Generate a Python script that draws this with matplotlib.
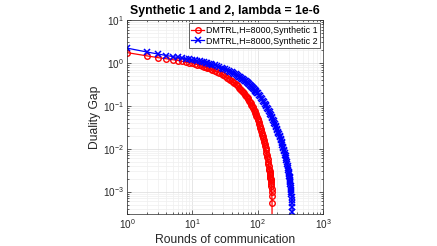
import numpy as np
import matplotlib
matplotlib.use('Agg')
import matplotlib.pyplot as plt
from matplotlib.ticker import LogLocator

plt.rcParams['font.family'] = ['Liberation Sans', 'DejaVu Sans']
plt.rcParams['mathtext.default'] = 'regular'

# Synthetic 1 (rounds, log10 of duality gap)
rounds1 = [1, 2, 3, 4, 5, 6, 7, 8, 9, 10, 11, 12, 13, 14, 15, 16, 17, 18, 19, 20,
           22, 24, 26, 28, 30, 32, 34, 36, 38, 40, 42, 44, 46, 48, 50,
           52, 54, 56, 58, 60, 62, 64, 66, 68, 70, 72, 74, 76, 78, 80,
           82, 84, 86, 88, 90, 92, 94, 96, 98, 100, 102, 104, 106, 108, 110,
           112, 114, 116, 118, 120, 122, 124, 126, 128, 130, 132, 134, 136, 138, 140,
           142, 144, 146, 148, 150,
           151, 152, 153, 154, 155, 156, 157, 158, 159, 160, 161, 162, 163,
           164, 165, 166, 167]
gap1_log10 = [0.240, 0.165, 0.122, 0.097, 0.075, 0.055, 0.037, 0.020, 0.004, -0.012,
              -0.027, -0.042, -0.057, -0.072, -0.087, -0.101, -0.115, -0.129, -0.143, -0.157,
              -0.184, -0.211, -0.237, -0.263, -0.289, -0.315, -0.341, -0.367, -0.393, -0.419,
              -0.445, -0.471, -0.497, -0.523, -0.549,
              -0.575, -0.602, -0.628, -0.655, -0.682, -0.710, -0.738, -0.766, -0.794, -0.823,
              -0.852, -0.881, -0.910, -0.940, -0.970,
              -1.000, -1.031, -1.062, -1.094, -1.126, -1.159, -1.192, -1.228, -1.265, -1.302,
              -1.340, -1.385, -1.430, -1.470, -1.510,
              -1.550, -1.590, -1.630, -1.670, -1.715, -1.760, -1.805, -1.850, -1.895, -1.940,
              -1.990, -2.040, -2.090, -2.140, -2.195,
              -2.250, -2.305, -2.360, -2.415, -2.470,
              -2.50, -2.53, -2.56, -2.59, -2.62, -2.65, -2.68, -2.71, -2.74, -2.78,
              -2.82, -2.87, -2.93, -3.00, -3.10, -3.27, -12.0]

# Synthetic 2
rounds2 = [1, 2, 3, 4, 5, 6, 7, 8, 9, 10, 11, 12, 13, 14, 15, 16, 17, 18, 19, 20,
           22, 24, 26, 28, 30, 32, 34, 36, 38, 40, 42, 44, 46, 48, 50,
           52, 54, 56, 58, 60, 62, 64, 66, 68, 70, 72, 74, 76, 78, 80,
           82, 84, 86, 88, 90, 92, 94, 96, 98, 100,
           104, 108, 112, 116, 120, 124, 128, 132, 136, 140, 144, 148, 152, 156, 160,
           164, 168, 172, 176, 180, 184, 188, 192, 196, 200, 204, 208, 212, 216, 220,
           224, 228, 232, 236, 240, 244, 248, 252, 256, 260, 264, 268, 272, 276, 280,
           284, 288, 292, 296, 300,
           302, 304, 306, 308, 310, 312, 314, 316, 318, 320, 322, 324, 326, 328, 330,
           332, 334, 336, 338, 340, 341]
gap2_log10 = [0.345, 0.255, 0.205, 0.172, 0.148, 0.128, 0.111, 0.096, 0.083, 0.070,
              0.059, 0.048, 0.037, 0.026, 0.015, 0.004, -0.007, -0.018, -0.028, -0.038,
              -0.057, -0.076, -0.095, -0.114, -0.133, -0.151, -0.168, -0.185, -0.202, -0.219,
              -0.236, -0.253, -0.270, -0.286, -0.302,
              -0.318, -0.334, -0.350, -0.366, -0.382, -0.398, -0.415, -0.431, -0.448, -0.464,
              -0.480, -0.497, -0.513, -0.530, -0.546,
              -0.562, -0.579, -0.595, -0.612, -0.628, -0.644, -0.661, -0.677, -0.694, -0.710,
              -0.743, -0.776, -0.810, -0.844, -0.878, -0.912, -0.947, -0.981, -1.016, -1.050,
              -1.084, -1.119, -1.153, -1.188, -1.222,
              -1.256, -1.291, -1.325, -1.360, -1.394, -1.428, -1.463, -1.497, -1.532, -1.566,
              -1.600, -1.635, -1.669, -1.704, -1.738,
              -1.773, -1.808, -1.843, -1.878, -1.913, -1.949, -1.985, -2.022, -2.059, -2.097,
              -2.136, -2.176, -2.217, -2.259, -2.302,
              -2.347, -2.393, -2.440, -2.490, -2.542,
              -2.569, -2.597, -2.627, -2.657, -2.688, -2.720, -2.753, -2.788, -2.825, -2.864,
              -2.906, -2.952, -3.001, -3.055, -3.115,
              -3.185, -3.265, -3.36, -3.48, -3.62, -12.0]

labels = ['DMTRL,H=8000,Synthetic 1', 'DMTRL,H=8000,Synthetic 2']

gap1 = 10.0 ** np.array(gap1_log10)
gap2 = 10.0 ** np.array(gap2_log10)

fig = plt.figure(figsize=(4.37, 2.46), dpi=100)
ax = fig.add_axes([0.2906, 0.130, 0.4485, 0.7887])

ax.loglog(rounds1, gap1, '-o', color='red', mfc='none', ms=4, lw=0.9, mew=1.0,
          label=labels[0])
ax.loglog(rounds2, gap2, '-x', color='blue', ms=4.2, lw=0.9, mew=1.1,
          label=labels[1])

ax.set_xlim(1, 1000)
ax.set_ylim(3e-4, 10)
ax.xaxis.set_major_locator(LogLocator(base=10, numticks=10))
ax.yaxis.set_major_locator(LogLocator(base=10, numticks=10))

grey = '#262626'
ax.grid(True, which='major', color='#dcdcdc', lw=0.5)
ax.grid(True, which='minor', color='#efefef', lw=0.5)
ax.set_axisbelow(True)
ax.tick_params(which='both', direction='in', top=True, right=True,
               colors='#262626', labelsize=7.2, labelcolor=grey)
ax.tick_params(which='major', length=3, width=0.5, pad=2.5)
ax.tick_params(which='minor', length=1.5, width=0.5)
for s in ax.spines.values():
    s.set_color('#262626')
    s.set_linewidth(0.5)

ax.set_xlabel('Rounds of communication', fontsize=8.7, color=grey, labelpad=2)
ax.set_ylabel('Duality Gap', fontsize=8.7, color=grey, labelpad=1)
ax.set_title('Synthetic 1 and 2, lambda = 1e-6', fontsize=8.8, fontweight='bold',
             pad=4)

leg = ax.legend(loc='upper right', fontsize=6.4, fancybox=False, framealpha=1,
                edgecolor='#262626', borderpad=0.3, handlelength=1.4,
                handletextpad=0.2, labelspacing=0.2, borderaxespad=0.35)
leg.get_frame().set_linewidth(0.5)

plt.savefig('out.png', dpi=100)
